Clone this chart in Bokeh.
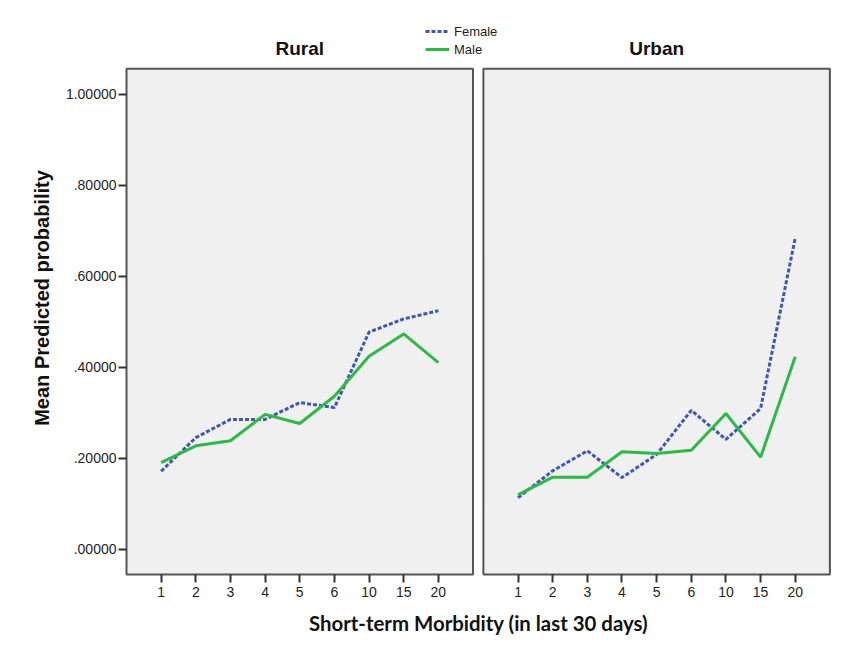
from bokeh.plotting import figure
from bokeh.models import Range1d, FixedTicker, Legend, LegendItem, Label
from bokeh.embed import file_html
from bokeh.resources import INLINE

# ---------------- data ----------------
categories = ["1", "2", "3", "4", "5", "6", "10", "15", "20"]
panels = ["Rural", "Urban"]
rural_female = [0.171, 0.245, 0.285, 0.285, 0.322, 0.311, 0.477, 0.506, 0.524]
rural_male = [0.190, 0.227, 0.238, 0.296, 0.276, 0.336, 0.424, 0.473, 0.410]
urban_female = [0.113, 0.172, 0.216, 0.157, 0.208, 0.305, 0.241, 0.309, 0.684]
urban_male = [0.119, 0.158, 0.158, 0.214, 0.210, 0.217, 0.298, 0.202, 0.423]
y_ticks = [0.0, 0.2, 0.4, 0.6, 0.8, 1.0]
y_tick_labels = [".00000", ".20000", ".40000", ".60000", ".80000", "1.00000"]
series_names = ["Female", "Male"]

# ---------------- layout ----------------
PX_X = 34.65          # px per category slot
PX_Y = 454.8          # px per probability unit
SLOTS = len(categories) + 1
GAP = 0.3
Y_PAD = 0.056
EDGE = 2.0            # px between frame edge and panel edge
FRAME_W, FRAME_H = 708, 557
offsets = [0.0, SLOTS + GAP]

BLUE = "#3E58AC"
GREEN = "#2EB848"
TXT = "#1e1e1e"

x0 = -EDGE / PX_X
y0 = -Y_PAD - EDGE / PX_Y
p = figure(
    frame_width=FRAME_W, frame_height=FRAME_H,
    x_range=Range1d(x0, x0 + FRAME_W / PX_X),
    y_range=Range1d(y0, y0 + FRAME_H / PX_Y),
    output_backend="svg", toolbar_location=None,
    min_border_left=124, min_border_right=20,
    min_border_top=19, min_border_bottom=55,
    background_fill_color="white", border_fill_color="white",
    outline_line_color=None,
)
p.xgrid.visible = False
p.ygrid.visible = False

# panel backgrounds
p.quad(left=[o for o in offsets], right=[o + SLOTS for o in offsets],
       bottom=-Y_PAD, top=1 + Y_PAD,
       fill_color="#F0F0F0", line_color="#555555", line_width=2)

series = {
    "Rural": (rural_female, rural_male),
    "Urban": (urban_female, urban_male),
}
legend_renderers = {}
for name, off in zip(panels, offsets):
    xs = [off + i + 1 for i in range(len(categories))]
    fem, mal = series[name]
    rf = p.line(xs, fem, line_color=BLUE, line_width=3, line_dash="4 2")
    rm = p.line(xs, mal, line_color=GREEN, line_width=3)
    legend_renderers.setdefault("Female", rf)
    legend_renderers.setdefault("Male", rm)
    p.add_layout(Label(x=off + SLOTS / 2, y=1.1, text=name, text_align="center",
                       text_baseline="alphabetic", text_font="Liberation Sans",
                       text_font_style="bold", text_font_size="19px", text_color="#111111"))

# x axis
x_ticks = [off + i + 1 for off in offsets for i in range(len(categories))]
xa = p.xaxis[0]
xa.ticker = FixedTicker(ticks=x_ticks)
xa.major_label_overrides = {t: c for t, c in zip(x_ticks, categories * len(panels))}
xa.axis_line_color = None
xa.major_tick_in = 2
xa.major_tick_out = 6
xa.major_tick_line_color = "#333333"
xa.major_tick_line_width = 2
xa.minor_tick_line_color = None
xa.major_label_standoff = 4
xa.major_label_text_font = "Liberation Sans"
xa.major_label_text_font_size = "14px"
xa.major_label_text_color = TXT
xa.axis_label = "Short-term Morbidity (in last 30 days)"
xa.axis_label_text_font = "Lato"
xa.axis_label_text_font_style = "bold"
xa.axis_label_text_font_size = "20.4px"
xa.axis_label_text_color = "#111111"
xa.axis_label_standoff = 11

# y axis
ya = p.yaxis[0]
ya.ticker = FixedTicker(ticks=y_ticks)
ya.major_label_overrides = {t: l for t, l in zip(y_ticks, y_tick_labels)}
ya.axis_line_color = None
ya.major_tick_in = 2
ya.major_tick_out = 6
ya.major_tick_line_color = "#333333"
ya.major_tick_line_width = 2
ya.minor_tick_line_color = None
ya.major_label_standoff = 2
ya.major_label_text_font = "Liberation Sans"
ya.major_label_text_font_size = "14px"
ya.major_label_text_color = TXT
ya.axis_label = "Mean Predicted probability"
ya.axis_label_text_font = "Liberation Sans"
ya.axis_label_text_font_style = "bold"
ya.axis_label_text_font_size = "20px"
ya.axis_label_text_color = "#111111"
ya.axis_label_standoff = 10

legend = Legend(
    items=[LegendItem(label=n, renderers=[legend_renderers[n]]) for n in series_names],
    location=(301, 519), orientation="vertical",
    padding=0, margin=0, spacing=2,
    glyph_width=24, glyph_height=16, label_height=16, label_standoff=5,
    border_line_color=None, background_fill_alpha=0,
    label_text_font="Liberation Sans", label_text_font_size="13px",
    label_text_color=TXT,
)
p.add_layout(legend)

open("out.html", "w").write(file_html(p, INLINE))
